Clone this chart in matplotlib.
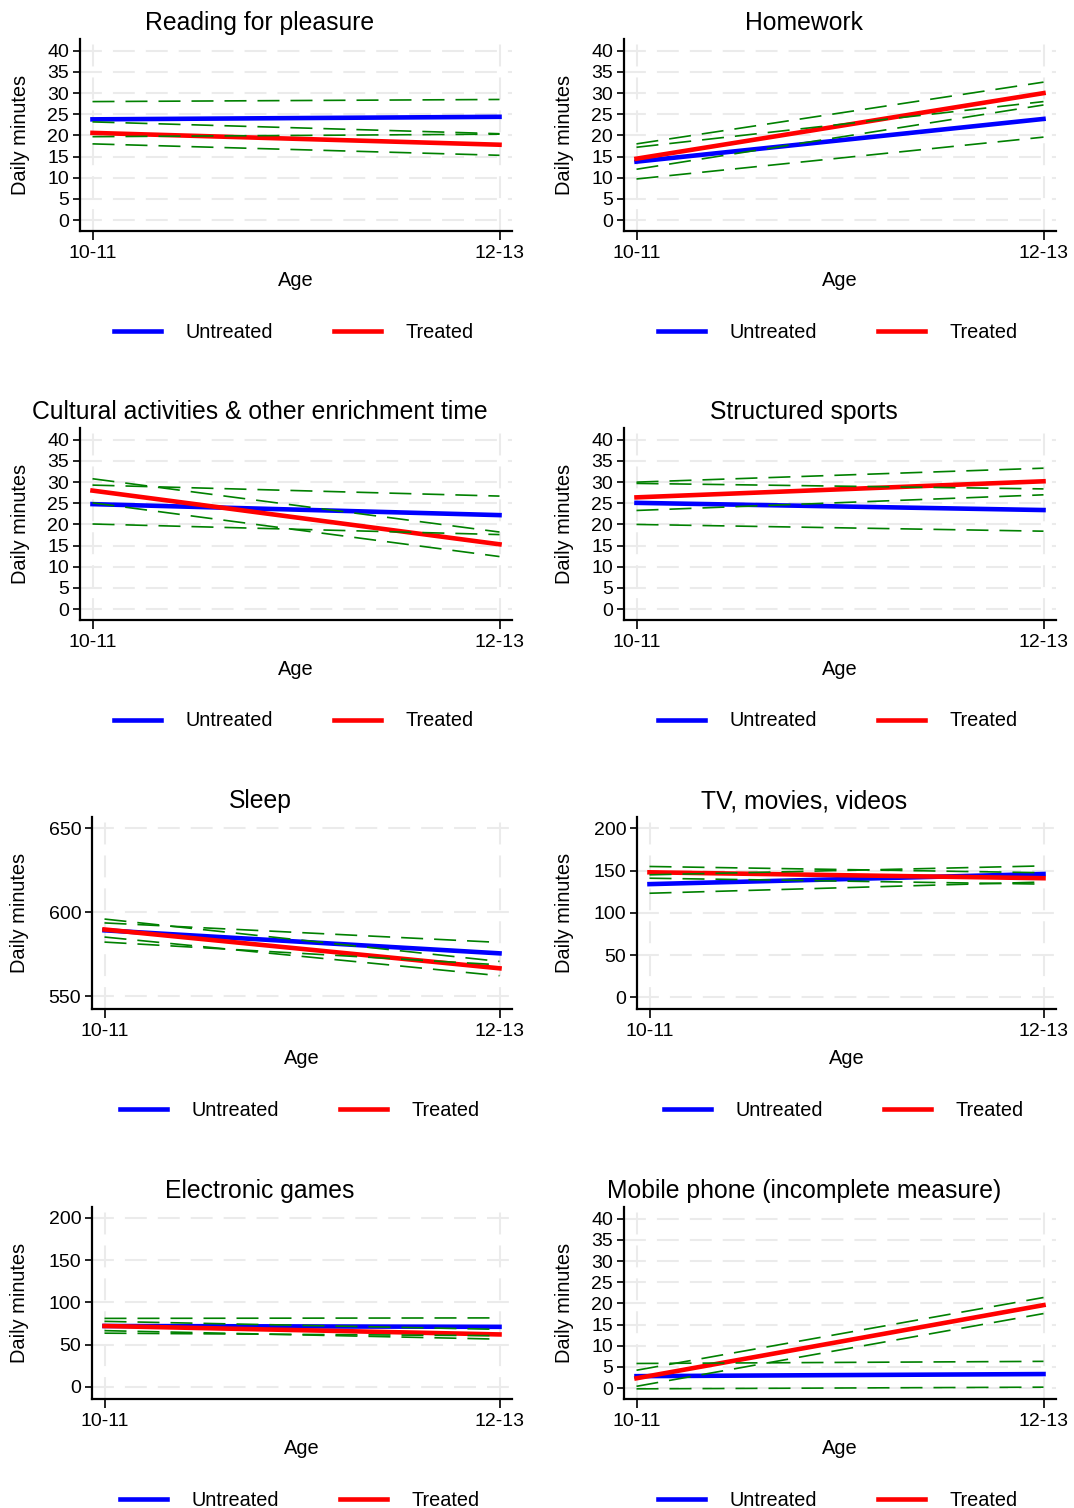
import numpy as np
import matplotlib
matplotlib.use("Agg")
from matplotlib import pyplot as plt

plt.rcParams["font.family"] = ["Liberation Sans", "DejaVu Sans"]

W, H = 1074, 1508

ages = ["10-11", "12-13"]

titles = [
    "Reading for pleasure",
    "Homework",
    "Cultural activities & other enrichment time",
    "Structured sports",
    "Sleep",
    "TV, movies, videos",
    "Electronic games",
    "Mobile phone (incomplete measure)",
]

# mean and CI bounds at age 10-11 and 12-13
untreated = [(23.8, 24.4), (13.8, 23.9), (24.8, 22.2), (25.1, 23.4),
             (589.3, 575.6), (134.0, 146.0), (72.0, 71.0), (2.8, 3.3)]
untreated_hi = [(28.0, 28.5), (17.2, 28.0), (29.3, 26.7), (29.7, 28.4),
                (593.7, 582.1), (145.0, 155.6), (81.0, 81.6), (5.8, 6.3)]
untreated_lo = [(19.7, 20.3), (9.7, 19.6), (20.1, 17.6), (20.0, 18.4),
                (582.3, 568.8), (123.2, 136.5), (63.5, 60.5), (-0.2, 0.2)]
treated = [(20.6, 17.8), (14.5, 30.0), (28.0, 15.3), (26.4, 30.2),
           (589.8, 566.7), (148.0, 141.0), (72.0, 62.0), (2.3, 19.6)]
treated_hi = [(23.2, 20.4), (18.0, 32.6), (30.8, 18.2), (30.0, 33.3),
              (596.0, 570.8), (154.9, 147.5), (77.5, 68.0), (4.2, 21.4)]
treated_lo = [(18.0, 15.3), (12.0, 27.2), (25.1, 12.4), (23.3, 27.0),
              (585.3, 562.3), (141.0, 134.0), (66.5, 56.4), (0.4, 17.6)]

small_ticks = list(range(0, 45, 5))
yticks = [small_ticks, small_ticks, small_ticks, small_ticks,
          [550, 600, 650], [0, 50, 100, 150, 200], [0, 50, 100, 150, 200], small_ticks]
ylims = [(-2.6, 42.8)] * 4 + [(542.5, 656.7), (-13.9, 213.5), (-14.5, 213.0), (-2.6, 42.8)]

fig = plt.figure(figsize=(W / 100, H / 100), dpi=100)
fig.patch.set_facecolor("white")

row_tops = [39, 428, 817, 1207]
ax_h = 192
grid_kw = dict(color="#ebebeb", linewidth=1.5, linestyle=(0, (10.5, 5.3)))

for i, title in enumerate(titles):
    row, col = divmod(i, 2)
    wide = len(str(max(yticks[i]))) >= 3
    if col == 0:
        left = 92 if wide else 80
        right = 512
        title_x, ylab_x = 260, 19.5 if wide else 20.7
    else:
        left = 637 if wide else 624
        right = 1056
        title_x, ylab_x = 804, 564.6
    top = row_tops[row]
    bottom = top + ax_h
    ax = fig.add_axes([left / W, 1 - bottom / H, (right - left) / W, ax_h / H])

    x = np.arange(len(ages))
    ax.plot(x, untreated[i], color="#0000ff", lw=3.3, zorder=3, label="Untreated")
    ax.plot(x, treated[i], color="#ff0000", lw=3.3, zorder=3, label="Treated")
    for ci in (untreated_hi[i], untreated_lo[i], treated_hi[i], treated_lo[i]):
        ax.plot(x, ci, color="#008000", lw=1.2, linestyle=(0, (13.2, 6.6)), zorder=4)

    pad = 12.5 / (right - left - 25)
    ax.set_xlim(-pad, 1 + pad)
    ax.set_ylim(*ylims[i])
    ax.set_xticks(x)
    ax.set_xticklabels(ages)
    ax.set_yticks(yticks[i])
    ax.tick_params(labelsize=14, length=5.3, width=1.2, pad=2.5, colors="black")
    ax.tick_params(axis="x", length=6.5, pad=3.5)
    ax.grid(True, **grid_kw)
    ax.set_axisbelow(True)
    for s in ("top", "right"):
        ax.spines[s].set_visible(False)
    for s in ("left", "bottom"):
        ax.spines[s].set_linewidth(1.6)

    mid_y = (top + bottom) / 2
    fig.text(title_x / W, 1 - (top - 16) / H, title, ha="center", va="center", fontsize=17.8)
    fig.text(ylab_x / W, 1 - mid_y / H, "Daily minutes", rotation=90,
             ha="center", va="center", fontsize=14.4)
    fig.text((left + right) / 2 / W, 1 - (bottom + 49) / H, "Age",
             ha="center", va="center", fontsize=14.4)

    ax.legend(loc="center", bbox_to_anchor=(((left + right) / 2 - 2.5) / W, 1 - (bottom + 101) / H),
              bbox_transform=fig.transFigure, ncol=2, frameon=False, fontsize=14.3,
              handlelength=2.37, handletextpad=1.23, columnspacing=3.09,
              borderpad=0, borderaxespad=0)

fig.savefig("out.png", dpi=100, facecolor="white")
